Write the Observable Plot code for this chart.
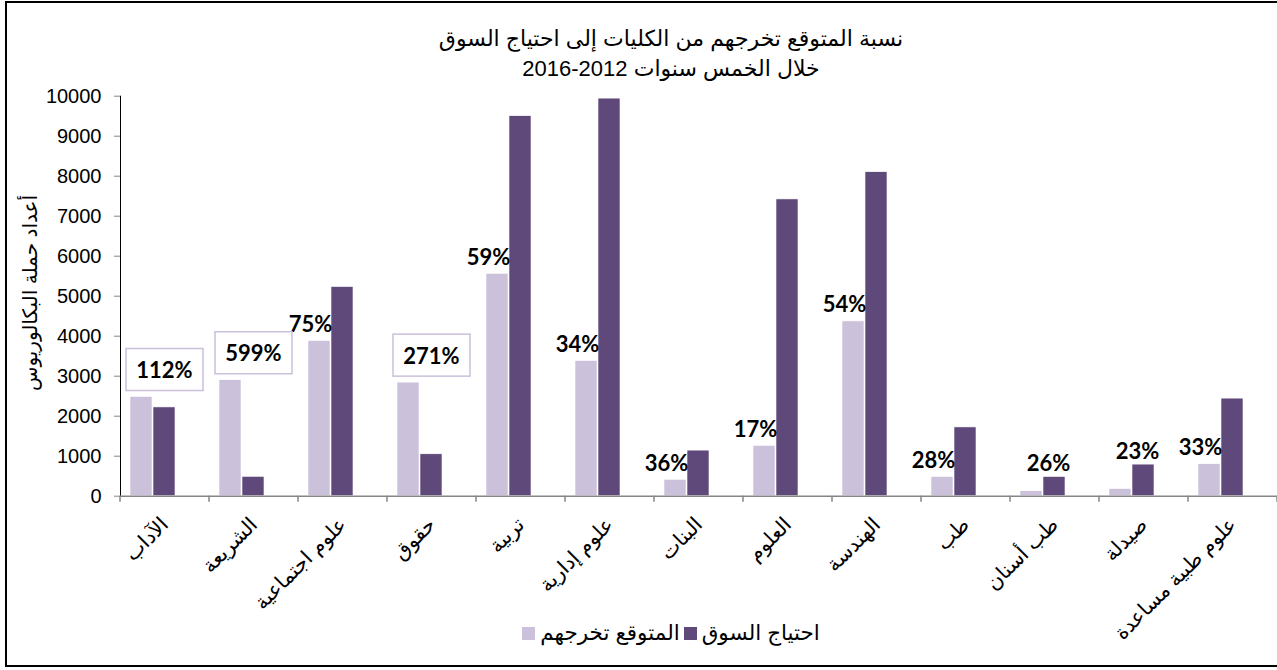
<!DOCTYPE html>
<html><head><meta charset="utf-8">
<script src="https://cdn.jsdelivr.net/npm/d3@7"></script>
<script src="https://cdn.jsdelivr.net/npm/@observablehq/plot@0.6"></script>
<style>
html,body{margin:0;padding:0;background:#fff;overflow:hidden;}
#page{position:relative;width:1277px;height:670px;overflow:hidden;background:#fff;}
#frame{position:absolute;left:5px;top:1px;width:1340px;height:662px;border:2.5px solid #000;}
#chart{position:absolute;left:0;top:0;width:1277px;height:670px;overflow:hidden;}
#title{position:absolute;left:0;width:1342px;top:24px;text-align:center;font-family:"Liberation Sans","DejaVu Sans",sans-serif;font-size:22px;line-height:30px;color:#000;direction:rtl;}
#ylabel{position:absolute;left:30px;top:293px;transform:translate(-50%,-50%) rotate(-90deg);white-space:nowrap;font-family:"Liberation Sans","DejaVu Sans",sans-serif;font-size:20px;color:#000;direction:rtl;}
#legend{position:absolute;left:0;width:1342px;top:620px;display:flex;justify-content:center;align-items:center;direction:ltr;font-family:"Liberation Sans","DejaVu Sans",sans-serif;font-size:21.5px;color:#000;}
.sw{width:13px;height:13px;display:inline-block;margin:0 5px 0 0;}
.item{display:flex;align-items:center;margin:0 2px;}
svg g[aria-label^="y-axis"]{color:#868686;}
svg g[aria-label^="y-axis"] text{fill:#000;}
svg g[aria-label^="fx-axis"] text{font-size:20.5px;}
</style>
</head><body>
<div id="page">
<div id="frame"></div>
<div id="chart"></div>
<div id="title"></div>
<div id="ylabel"></div>
<div id="legend"></div>
</div>
<script>
const titleLines = ["نسبة المتوقع تخرجهم من الكليات إلى احتياج السوق", "خلال الخمس سنوات 2012-2016"];
const yAxisLabel = "أعداد حملة البكالوريوس";
const categories = ["الآداب","الشريعة","علوم اجتماعية","حقوق","تربية","علوم إدارية","البنات","العلوم","الهندسة","طب","طب أسنان","صيدلة","علوم طبية مساعدة"];
const expectedGraduates = [2480, 2900, 3880, 2840, 5560, 3380, 410, 1260, 4370, 480, 125, 180, 800];
const marketNeed = [2220, 484, 5230, 1048, 9500, 9940, 1140, 7420, 8100, 1720, 480, 790, 2440];
const ratioLabels = ["112%","599%","75%","271%","59%","34%","36%","17%","54%","28%","26%","23%","33%"];
const yTicks = [0,1000,2000,3000,4000,5000,6000,7000,8000,9000,10000];
const seriesKeys = ["light","dark"];
const seriesNames = ["المتوقع تخرجهم","احتياج السوق"];
const seriesColors = ["#CCC1DA","#5F497A"];

document.getElementById("title").innerHTML = titleLines.map(t => `<div>${t}</div>`).join("");
document.getElementById("ylabel").textContent = yAxisLabel;
document.getElementById("legend").innerHTML = seriesNames.map((n,i) =>
  `<span class="item"><span class="sw" style="background:${seriesColors[i]}"></span><span dir="rtl">${n}</span></span>`).join("");

const rows = [];
categories.forEach((c,i) => {
  rows.push({category:c, series:"light", value:expectedGraduates[i]});
  rows.push({category:c, series:"dark", value:marketNeed[i]});
});
const cats = categories.map((c,i) => ({category:c, light:expectedGraduates[i], dark:marketNeed[i], label:ratioLabels[i]}));
const boxed = cats.filter(d => d.light > d.dark);
const small = cats.filter(d => d.light <= d.dark && d.light < 300);
const normal = cats.filter(d => d.light <= d.dark && d.light >= 300);
const lblFont = {fontFamily:"Lato, 'Open Sans', sans-serif", fontWeight:"bold", fontSize:22, fill:"#000"};

const plot = Plot.plot({
  width:1277, height:670,
  marginLeft:119, marginRight:0, marginTop:95.7, marginBottom:174.3,
  style:{fontFamily:'"Liberation Sans","DejaVu Sans",sans-serif', fontSize:"20px", color:"#000", background:"transparent", overflow:"hidden"},
  fx:{domain:categories, padding:0, axis:"bottom", tickRotate:-45, tickSize:0, tickPadding:25, label:null},
  x:{domain:["light","dark","blank"], paddingInner:0.04, paddingOuter:0.38, axis:null},
  y:{domain:[0,10000], ticks:yTicks, tickSize:6, tickPadding:13, line:true, label:null, tickFormat:d3.format("d")},
  color:{domain:seriesKeys, range:seriesColors},
  marks:[
    Plot.barY(rows, {fx:"category", x:"series", y:"value", fill:"series", stroke:"#fff", strokeWidth:0.6}),
    Plot.ruleY([0], {stroke:"#868686", strokeWidth:1.5}),
    Plot.text(normal, {fx:"category", x:() => "light", y:"light", text:"label", dy:-16, dx:-9, ...lblFont}),
    Plot.text(small, {fx:"category", x:() => "dark", y:"dark", text:"label", dy:-13, dx:-6, ...lblFont}),
    Plot.text(boxed, {fx:"category", x:() => "dark", y:"light", text:"label", dy:-26, ...lblFont})
  ]
});
document.getElementById("chart").appendChild(plot);

// boundary tick marks between categories, from the fx band scale
const fx = plot.scale("fx"), ys = plot.scale("y");
const y0 = ys.apply(0);
const svg = d3.select(plot.tagName.toLowerCase() === "svg" ? plot : plot.querySelector("svg"));
const edges = categories.map(c => fx.apply(c)).concat([fx.apply(categories[categories.length-1]) + fx.bandwidth]);
svg.append("g").selectAll("line").data(edges).join("line")
  .attr("x1", d => d).attr("x2", d => d).attr("y1", y0).attr("y2", y0 + 6)
  .attr("stroke", "#868686").attr("stroke-width", 1.5);

// boxes around the ratio labels above 100%
const boxedSet = new Set(boxed.map(d => d.label));
svg.selectAll("text").filter(function(){ return boxedSet.has(this.textContent); }).each(function(){
  const b = this.getBBox();
  const cx = b.x + b.width/2, cy = b.y + b.height/2;
  const r = document.createElementNS("http://www.w3.org/2000/svg","rect");
  r.setAttribute("x", cx - 38.5); r.setAttribute("y", cy - 21);
  r.setAttribute("width", 77); r.setAttribute("height", 42);
  r.setAttribute("fill", "#fff"); r.setAttribute("stroke", "#CBC0DC"); r.setAttribute("stroke-width", 1.5);
  const t = this.getAttribute("transform"); if (t) r.setAttribute("transform", t);
  this.parentNode.insertBefore(r, this);
});
</script>
</body></html>
